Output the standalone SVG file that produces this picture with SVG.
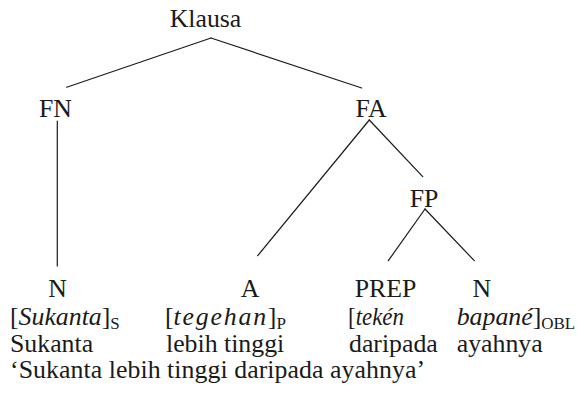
<svg xmlns="http://www.w3.org/2000/svg" width="577" height="396" viewBox="0 0 577 396">
  <style>
    .t { font-family: 'Liberation Serif', 'Times New Roman', Tinos, 'DejaVu Serif', serif; font-size: 25.8px; fill: #1a1a1a; }
    .mid { text-anchor: middle; }
    .it { font-style: italic; }
    .sub { font-size: 17px; }
    .br { stroke: #1a1a1a; stroke-width: 1.2; stroke-linecap: round; fill: none; }
  </style>
  <rect width="577" height="396" fill="#ffffff"/>

  <!-- tree branches -->
  <g id="connectors" class="br">
    <line x1="211" y1="38" x2="66.7" y2="87.3"/>
    <line x1="211" y1="38" x2="361.7" y2="88"/>
    <line x1="57.3" y1="121" x2="57.3" y2="266"/>
    <line x1="369.3" y1="120" x2="257.7" y2="255.7"/>
    <line x1="369.3" y1="120" x2="422.7" y2="176.7"/>
    <line x1="425" y1="209" x2="388.3" y2="260.7"/>
    <line x1="425" y1="209" x2="474.3" y2="260.7"/>
  </g>

  <!-- phrase nodes -->
  <g id="klausa"><text class="t mid" x="205.5" y="26.7">Klausa</text></g>
  <g id="fn"><text class="t mid" x="55.5" y="116.7">FN</text></g>
  <g id="fa"><text class="t mid" x="371" y="116.7">FA</text></g>
  <g id="fp"><text class="t mid" x="424" y="206.7">FP</text></g>

  <!-- terminal nodes -->
  <g id="n1"><text class="t mid" x="57.5" y="297">N</text></g>
  <g id="a"><text class="t mid" x="250" y="297">A</text></g>
  <g id="prep"><text class="t mid" x="385.5" y="297">PREP</text></g>
  <g id="n2"><text class="t mid" x="481.7" y="297">N</text></g>

  <!-- bracketed constituents with role subscripts -->
  <g id="gloss">
    <text class="t" x="10" y="325">[<tspan class="it">Sukanta</tspan>]<tspan class="sub" dy="4">S</tspan></text>
    <text class="t" x="165" y="325">[<tspan class="it" letter-spacing="1.8">tegehan</tspan>]<tspan class="sub" dy="4">P</tspan></text>
    <text class="t" x="348" y="325" textLength="56" lengthAdjust="spacingAndGlyphs">[<tspan class="it">tekén</tspan></text>
    <text class="t" x="456.7" y="325"><tspan class="it">bapané</tspan>]<tspan class="sub" dy="4">OBL</tspan></text>

    <!-- word-by-word gloss -->
    <text class="t" x="10" y="351.7">Sukanta</text>
    <text class="t" x="166" y="351.7">lebih tinggi</text>
    <text class="t" x="349" y="351.7">daripada</text>
    <text class="t" x="456.7" y="351.7">ayahnya</text>

    <!-- free translation -->
    <text class="t" x="10" y="378.3" textLength="415">‘Sukanta lebih tinggi daripada ayahnya’</text>
  </g>
</svg>
